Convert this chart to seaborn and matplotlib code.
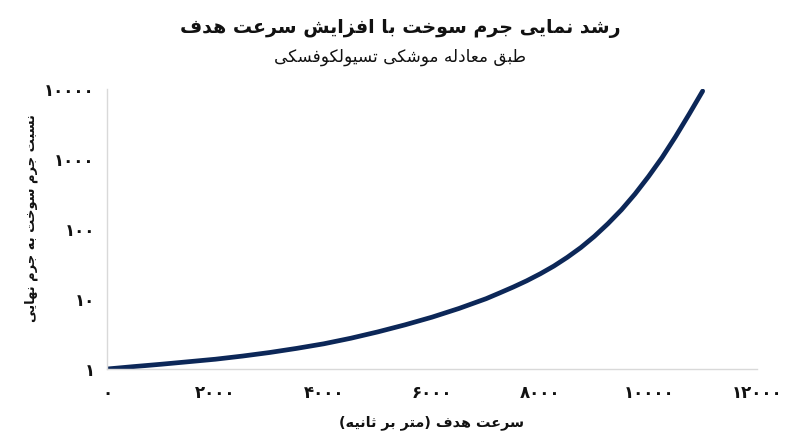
import matplotlib
matplotlib.use("Agg")
import matplotlib.pyplot as plt
import seaborn as sns
import pandas as pd

# ---------------- data ----------------
velocity = [0, 500, 1000, 1500, 2000, 2500, 3000, 3500, 4000, 4500, 5000,
            5500, 6000, 6500, 7000, 7250, 7500, 7750, 8000, 8250, 8500, 8750,
            9000, 9250, 9500, 9750, 10000, 10250, 10500, 10750, 11000]
mass_ratio = [1.0, 1.084, 1.17, 1.27, 1.38, 1.53, 1.72, 1.97, 2.29, 2.75, 3.39,
              4.27, 5.50, 7.33, 10.1, 12.2, 14.8, 18.2, 22.9, 29.5, 39.4, 54.3,
              78.5, 119, 188, 316, 562, 1047, 2089, 4365, 9333]
x_ticks = [0, 2000, 4000, 6000, 8000, 10000, 12000]
y_ticks = [1, 10, 100, 1000, 10000]

title_text = "رشد نمایی جرم سوخت با افزایش سرعت هدف"
subtitle_text = "طبق معادله موشکی تسیولکوفسکی"
xlabel_text = "سرعت هدف (متر بر ثانیه)"
ylabel_text = "نسبت جرم سوخت به جرم نهایی"

# ------------- minimal Persian shaping (presentation forms) -------------
FORMS = {  # isolated, final, initial, medial
    '\u0627': ('\uFE8D', '\uFE8E', None, None),
    '\u0628': ('\uFE8F', '\uFE90', '\uFE91', '\uFE92'),
    '\u062A': ('\uFE95', '\uFE96', '\uFE97', '\uFE98'),
    '\u062B': ('\uFE99', '\uFE9A', '\uFE9B', '\uFE9C'),
    '\u062C': ('\uFE9D', '\uFE9E', '\uFE9F', '\uFEA0'),
    '\u062D': ('\uFEA1', '\uFEA2', '\uFEA3', '\uFEA4'),
    '\u062E': ('\uFEA5', '\uFEA6', '\uFEA7', '\uFEA8'),
    '\u062F': ('\uFEA9', '\uFEAA', None, None),
    '\u0630': ('\uFEAB', '\uFEAC', None, None),
    '\u0631': ('\uFEAD', '\uFEAE', None, None),
    '\u0632': ('\uFEAF', '\uFEB0', None, None),
    '\u0633': ('\uFEB1', '\uFEB2', '\uFEB3', '\uFEB4'),
    '\u0634': ('\uFEB5', '\uFEB6', '\uFEB7', '\uFEB8'),
    '\u0635': ('\uFEB9', '\uFEBA', '\uFEBB', '\uFEBC'),
    '\u0637': ('\uFEC1', '\uFEC2', '\uFEC3', '\uFEC4'),
    '\u0639': ('\uFEC9', '\uFECA', '\uFECB', '\uFECC'),
    '\u0641': ('\uFED1', '\uFED2', '\uFED3', '\uFED4'),
    '\u0642': ('\uFED5', '\uFED6', '\uFED7', '\uFED8'),
    '\u0644': ('\uFEDD', '\uFEDE', '\uFEDF', '\uFEE0'),
    '\u0645': ('\uFEE1', '\uFEE2', '\uFEE3', '\uFEE4'),
    '\u0646': ('\uFEE5', '\uFEE6', '\uFEE7', '\uFEE8'),
    '\u0647': ('\uFEE9', '\uFEEA', '\uFEEB', '\uFEEC'),
    '\u0648': ('\uFEED', '\uFEEE', None, None),
    '\u06CC': ('\uFBFC', '\uFBFD', '\uFBFE', '\uFBFF'),
    '\u06A9': ('\uFB8E', '\uFB8F', '\uFB90', '\uFB91'),
}
MIRROR = {'(': ')', ')': '('}


def dual(c):
    return c in FORMS and FORMS[c][2] is not None


def shape(text):
    out = []
    n = len(text)
    for i, c in enumerate(text):
        if c not in FORMS:
            out.append(MIRROR.get(c, c))
            continue
        prev_c = text[i - 1] if i > 0 else ''
        next_c = text[i + 1] if i < n - 1 else ''
        jp = dual(prev_c)
        jn = dual(c) and next_c in FORMS
        iso, fin, ini, med = FORMS[c]
        if jp and jn:
            out.append(med)
        elif jp:
            out.append(fin)
        elif jn:
            out.append(ini)
        else:
            out.append(iso)
    return ''.join(reversed(out))


def fa_digits(v):
    return str(v).translate(str.maketrans('0123456789', '۰۱۲۳۴۵۶۷۸۹'))


# ---------------- plot ----------------
sns.set_theme(style="white")
plt.rcParams['font.family'] = ['DejaVu Sans']

df = pd.DataFrame({"velocity": velocity, "ratio": mass_ratio})

fig = plt.figure(figsize=(8, 4.47), dpi=100)
ax = fig.add_axes([0.134, 0.1745, 0.812, 0.6265])

sns.lineplot(data=df, x="velocity", y="ratio", ax=ax, color="#0c2758",
             linewidth=3.4, solid_capstyle="round", solid_joinstyle="round")
ax.set_yscale("log")
ax.set_xlim(0, 12000)
ax.set_ylim(1, 10000)

ax.set_xticks(x_ticks)
ax.set_xticklabels([fa_digits(t) for t in x_ticks], fontsize=12, fontweight="bold")
ax.set_yticks(y_ticks)
ax.set_yticklabels([fa_digits(t) for t in y_ticks], fontsize=12, fontweight="bold")
ax.minorticks_off()
ax.tick_params(axis="x", length=0, pad=11, colors="#111111")
ax.tick_params(axis="y", length=0, pad=9, colors="#111111")

for s in ["top", "right"]:
    ax.spines[s].set_visible(False)
for s in ["left", "bottom"]:
    ax.spines[s].set_color("#d9d9d9")
    ax.spines[s].set_linewidth(1.0)

ax.set_xlabel(shape(xlabel_text), fontsize=10.4, fontweight="bold", labelpad=9, color="#111111")
ax.set_ylabel(shape(ylabel_text), fontsize=9.4, fontweight="bold", color="#111111")
ax.yaxis.set_label_coords(-0.107, 0.54)

fig.text(0.5, 0.937, shape(title_text), ha="center", va="center",
         fontsize=13.7, fontweight="bold", color="#111111")
fig.text(0.5, 0.872, shape(subtitle_text), ha="center", va="center",
         fontsize=12.2, color="#111111")

fig.savefig("out.png", dpi=100)
